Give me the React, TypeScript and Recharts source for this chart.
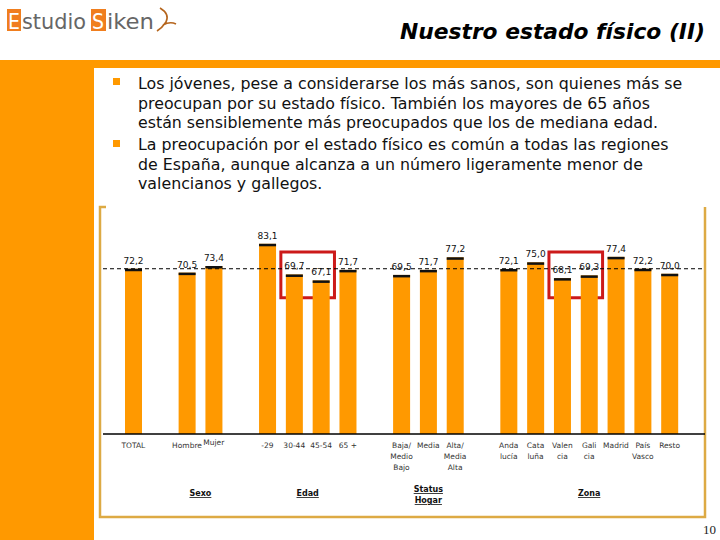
import { BarChart, Bar, XAxis, YAxis, LabelList, ReferenceLine, ReferenceArea } from 'recharts'

const categories = ['TOTAL', 'gap1', 'Hombre', 'Mujer', 'gap2', '-29', '30-44', '45-54', '65 +', 'gap3', 'Baja', 'Media', 'Alta', 'gap4', 'Andalucía', 'Cataluña', 'Valencia', 'Galicia', 'Madrid', 'País Vasco', 'Resto']
const tickLabels = [['TOTAL'], [], ['Hombre'], ['Mujer'], [], ['-29'], ['30-44'], ['45-54'], ['65 +'], [], ['Baja/', 'Medio', 'Bajo'], ['Media'], ['Alta/', 'Media', 'Alta'], [], ['Anda', 'lucía'], ['Cata', 'luña'], ['Valen', 'cia'], ['Gali', 'cia'], ['Madrid'], ['País', 'Vasco'], ['Resto']]
const values = [72.2, null, 70.5, 73.4, null, 83.1, 69.7, 67.1, 71.7, null, 69.5, 71.7, 77.2, null, 72.1, 75.0, 68.1, 69.3, 77.4, 72.2, 70.0]
const totalValue = 72.2
const groups = [
  { lines: ['Sexo'], from: 2, to: 3 },
  { lines: ['Edad'], from: 5, to: 8 },
  { lines: ['Status', 'Hogar'], from: 10, to: 12 },
  { lines: ['Zona'], from: 14, to: 20 },
]
const highlights = [['30-44', '45-54'], ['Valencia', 'Galicia']]

const bullets = [
  ['Los jóvenes, pese a considerarse los más sanos, son quienes más se', 'preocupan por su estado físico. También los mayores de 65 años', 'están sensiblemente más preocupados que los de mediana edad.'],
  ['La preocupación por el estado físico es común a todas las regiones', 'de España, aunque alcanza a un número ligeramente menor de', 'valencianos y gallegos.'],
]

const data = categories.map((key, i) => ({ key, value: values[i] }))

const ORANGE = '#FF9900'
const CHART_W = 602
const PAD_L = 17
const PAD_R = 22
const SLOT = (CHART_W - PAD_L - PAD_R) / categories.length

const fmt = (v: any) => (v == null ? '' : Number(v).toFixed(1).replace('.', ','))

const BarShape = (props: any) => {
  const { x, y, width, height } = props
  if (!height || height <= 0) return <g />
  return (
    <g>
      <rect x={x} y={y} width={width} height={height} fill={ORANGE} />
      <rect x={x} y={y} width={width} height={2.5} fill="#111" />
    </g>
  )
}

const Tick = (props: any) => {
  const { x, y, payload } = props
  const idx = payload.index
  const lines = tickLabels[idx] || []
  const group = groups.find(g => g.from === idx)
  const lift = lines[0] === 'Mujer' ? -3 : 0
  return (
    <g>
      {lines.map((l, i) => (
        <text key={i} x={x} y={y + 6 + lift + i * 11} textAnchor="middle" fontSize={7.5} fontFamily="DejaVu Sans" fill="#333">{l}</text>
      ))}
      {group && group.lines.map((l, i) => (
        <text key={'g' + i} x={x + ((group.to - group.from) / 2) * SLOT} y={y + (group.lines.length > 1 ? 50 : 54) + i * 11}
          textAnchor="middle" fontSize={8} fontWeight="bold" fontFamily="DejaVu Sans" fill="#111" textDecoration="underline">{l}</text>
      ))}
    </g>
  )
}

const App = () => (
  <div style={{ position: 'relative', width: 720, height: 540, background: '#fff', overflow: 'hidden' }}>
    <style>{'body{margin:0}'}</style>
    <svg width={720} height={540} style={{ position: 'absolute', left: 0, top: 0 }}>
      <rect x={0} y={60} width={720} height={8} fill={ORANGE} />
      <rect x={0} y={60} width={94} height={480} fill={ORANGE} />
      {/* logo */}
      <rect x={7} y={9} width={14} height={22} fill="#F07E1E" />
      <text x={8} y={29} fontSize={21} fontFamily="DejaVu Sans Condensed, DejaVu Sans" fill="#fff">E</text>
      <text x={22} y={29} fontSize={21} fontFamily="DejaVu Sans Condensed, DejaVu Sans" fill="#666" textLength={64} lengthAdjust="spacingAndGlyphs">studio</text>
      <rect x={91} y={9} width={15} height={22} fill="#F07E1E" />
      <text x={92} y={29} fontSize={21} fontFamily="DejaVu Sans Condensed, DejaVu Sans" fill="#fff">S</text>
      <text x={107} y={29} fontSize={21} fontFamily="DejaVu Sans Condensed, DejaVu Sans" fill="#666" textLength={47} lengthAdjust="spacingAndGlyphs">iken</text>
      <path d="M160 8 Q170 14 166 22 Q162 28 157 31 M163 25 Q170 21 176 24" stroke="#B5651D" strokeWidth={1.6} fill="none" />
      {/* title */}
      <text x={705} y={39} textAnchor="end" fontSize={22} fontWeight="bold" fontStyle="italic" fontFamily="DejaVu Sans Condensed, DejaVu Sans" fill="#000" textLength={305} lengthAdjust="spacingAndGlyphs">Nuestro estado físico (II)</text>
      {/* bullets */}
      {bullets.map((para, p) => (
        <g key={p}>
          <rect x={113} y={p === 0 ? 78 : 140} width={7} height={7} fill={ORANGE} />
          {para.map((line, i) => (
            <text key={i} x={138} y={(p === 0 ? 89 : 150) + i * 19.5} fontSize={15.8} fontFamily="DejaVu Sans" fill="#111">{line}</text>
          ))}
        </g>
      ))}
      {/* chart frame */}
      <path d="M106 207 L100 207 L100 517 L705 517 L705 207" stroke="#DDAA44" strokeWidth={2.5} fill="none" />
      <text x={716} y={534} textAnchor="end" fontSize={13} fontFamily="Liberation Serif" fill="#222">10</text>
    </svg>
    <div style={{ position: 'absolute', left: 103, top: 228 }}>
      <BarChart width={CHART_W} height={296} data={data} margin={{ top: 0, right: 0, bottom: 0, left: 0 }}>
        <XAxis dataKey="key" interval={0} height={90} tickLine={false} axisLine={{ stroke: '#000', strokeWidth: 1.5 }}
          padding={{ left: PAD_L, right: PAD_R }} tick={<Tick />} />
        <YAxis hide domain={[0, 90]} />
        <ReferenceLine y={totalValue} stroke="#000" strokeDasharray="4 3" />
        <Bar dataKey="value" barSize={17} shape={<BarShape />} isAnimationActive={false}>
          <LabelList dataKey="value" position="top" offset={5} formatter={fmt} fontSize={9} fontFamily="DejaVu Sans" fill="#111" />
        </Bar>
        {highlights.map(([a, b]) => (
          <ReferenceArea key={a} x1={a} x2={b} y1={59.5} y2={79.5} fill="none" fillOpacity={0} stroke="#CC1A1A" strokeWidth={3} />
        ))}
      </BarChart>
    </div>
  </div>
)

export default App
